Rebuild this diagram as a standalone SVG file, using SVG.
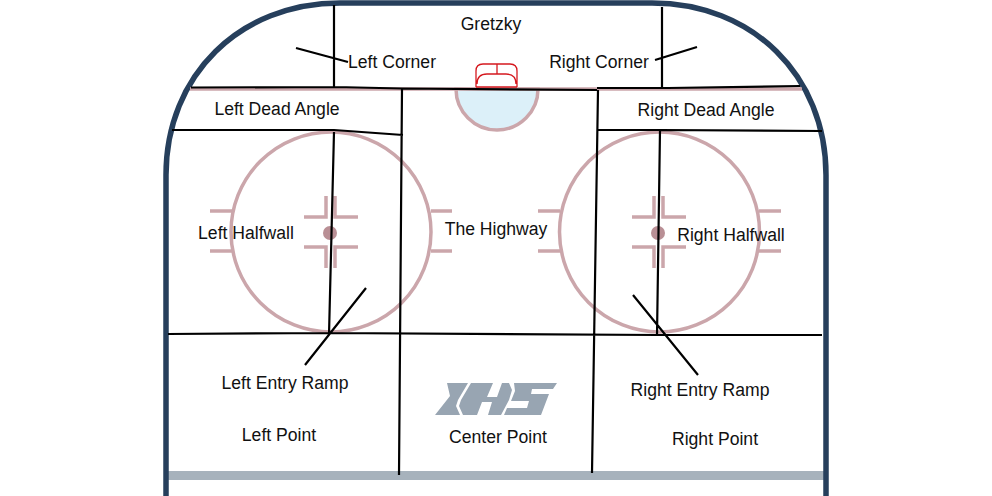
<svg xmlns="http://www.w3.org/2000/svg" width="992" height="496" viewBox="0 0 992 496">
<style>
text{font-family:"Liberation Sans",Arial,sans-serif;font-size:17.6px;fill:#111;text-anchor:middle}
.b{fill:none;stroke:#000;stroke-width:2.2}
.r{fill:none;stroke:#cba6ab;stroke-width:3.5}
.d{fill:#b98f95}
</style>
<rect width="992" height="496" fill="#fff"/>
<g id="rink">
<rect x="167" y="471" width="658" height="9" fill="#a7b2bc"/>
<path d="M166 496V175C166 75 240 3 340 3H652C752 3 826 75 826 175V496" fill="none" stroke="#263f5c" stroke-width="5.500"/>
<path d="M190 89H802" class="r"/>
<path d="M456 89A41 41 0 0 0 538 89Z" fill="#dcf0f9" stroke="#cba6ab" stroke-width="3.5"/>
<path d="M476 87V71Q476 64 483 64H510Q517 64 517 71V87M476 87H517M477 84Q477 74 487 74H506Q516 74 516 84M497 64V74" fill="none" stroke="#d5191f" stroke-width="1.3"/>
</g>
<g id="left-circle">
<circle cx="331" cy="232" r="100" class="r"/>
<path d="M210 211H232M210 251H232M431 211H452M431 251H452" class="r"/>
<path d="M304 217H326V196M335 196V217H358M304 247H326V268M335 268V247H358" class="r"/>
<circle cx="330" cy="233" r="7" class="d"/>
</g>
<g id="right-circle">
<circle cx="659.500" cy="232" r="100" class="r"/>
<path d="M538 211H560M538 251H560M759 211H781M759 251H781" class="r"/>
<path d="M632 217H654V196M663 196V217H686M632 247H654V268M663 268V247H686" class="r"/>
<circle cx="658" cy="233" r="7" class="d"/>
</g>
<g id="logo"><path d="M447 383H468L458 400 456 406 460 415H435L450 396ZM471 383H493L487 397H497L502 383H509L512 390 509 400 501 415H488L492 402H482L477 415H463L459 406 461 400ZM514 383H557L553 389H532L531 394H549L541 415H504L507 408H527L529 401H511L515 391Z" fill="#98a5b2"/></g>
<g id="connectors">
<path class="b" d="M334 5V87M662 7V87M191 87.500 335 87 402 88.500 597 90M597 88H668L800 86M172 130H334L403 135M598 130H660L822 131M402 88 399 475M598 90 592 473M334 132 329 335M660 130 657 336M168 334 329 333 658 335 822 335M366 288 305 365M633 295 698 375M296 48 348 62M697 47 655 60"/>
</g>
<g id="labels">
<text x="491" y="30">Gretzky</text>
<text x="392" y="67.500">Left Corner</text>
<text x="599" y="67.500">Right Corner</text>
<text x="277" y="115">Left Dead Angle</text>
<text x="706" y="116">Right Dead Angle</text>
<text x="246" y="239">Left Halfwall</text>
<text x="496" y="235">The Highway</text>
<text x="731" y="241">Right Halfwall</text>
<text x="285" y="389">Left Entry Ramp</text>
<text x="700" y="396">Right Entry Ramp</text>
<text x="279" y="441">Left Point</text>
<text x="498" y="443">Center Point</text>
<text x="715" y="445">Right Point</text>
</g>
</svg>
